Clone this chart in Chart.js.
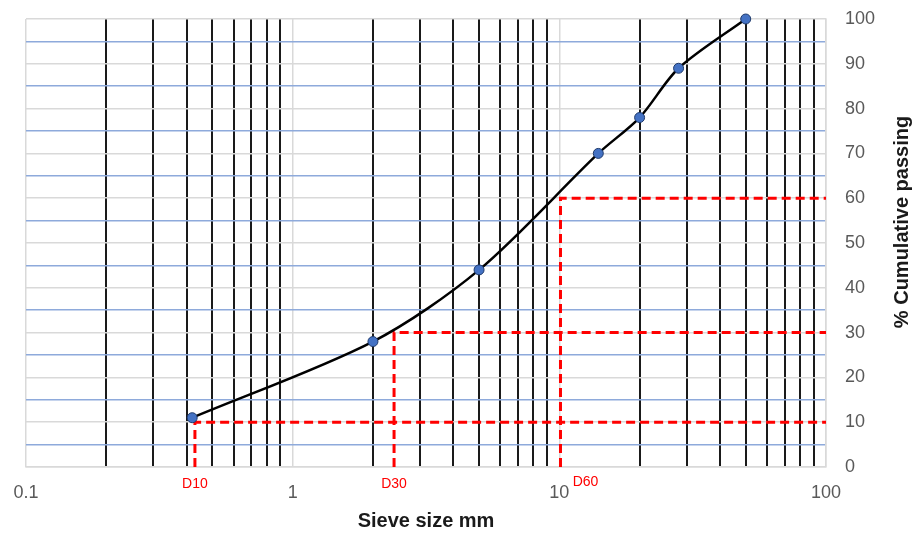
<!DOCTYPE html>
<html lang="en">
<head>
<meta charset="UTF-8">
<title>Particle size distribution</title>
<script src="https://cdn.jsdelivr.net/npm/chart.js"></script>
<style>
  html, body { margin: 0; padding: 0; background: #fff; }
  #wrap { width: 916px; height: 534px; }
</style>
</head>
<body>
<div id="wrap"><canvas id="grading"></canvas></div>
<script>
// sieve analysis data
const sieveSizes = [0.42, 2, 5, 14, 20, 28, 50];
const passing = [11, 28, 44, 70, 78, 89, 100];

// characteristic diameters
const dLabels = ['D10', 'D30', 'D60'];
const dSizes = [0.43, 2.4, 10.1];
const dPassing = [10, 30, 60];

const xTickLabels = ['0.1', '1', '10', '100'];
const yTickLabels = [0, 10, 20, 30, 40, 50, 60, 70, 80, 90, 100];

const FONT = '"Liberation Sans", Arial, sans-serif';

const isDecade = v => xTickLabels.some(l => Math.abs(+l - v) < 1e-9);

const curve = sieveSizes.map((s, i) => ({ x: s, y: passing[i] }));

const dSets = dLabels.map((lbl, i) => ({
  label: lbl,
  data: [
    { x: dSizes[i], y: 0 },
    { x: dSizes[i], y: dPassing[i] },
    { x: 100, y: dPassing[i] }
  ],
  borderColor: '#ff0000',
  borderWidth: 3,
  borderDash: [9, 5],
  pointRadius: 0,
  tension: 0,
  order: 2
}));

// red D labels plus the two axis titles
const annotate = {
  id: 'annotate',
  afterDraw(chart) {
    const { ctx, chartArea: a, scales: { x } } = chart;
    ctx.save();
    ctx.textAlign = 'center';
    ctx.textBaseline = 'middle';
    ctx.fillStyle = '#ff0000';
    ctx.font = '14px ' + FONT;
    dLabels.forEach((lbl, i) => {
      let px = x.getPixelForValue(dSizes[i]);
      let py = a.bottom + 17;
      if (i === 2) { px += 25; py -= 2; } // shifted clear of the "10" tick
      ctx.fillText(lbl, px, py);
    });

    ctx.fillStyle = '#1a1a1a';
    ctx.font = 'bold 20px ' + FONT;
    ctx.fillText('Sieve size mm', (a.left + a.right) / 2, 521);
    ctx.translate(902, 222);
    ctx.rotate(-Math.PI / 2);
    ctx.fillText('% Cumulative passing', 0, 0);
    ctx.restore();
  }
};

new Chart(document.getElementById('grading'), {
  type: 'line',
  data: {
    datasets: [{
      label: 'Passing',
      data: curve,
      borderColor: '#000000',
      borderWidth: 2.5,
      tension: 0.3,
      clip: false,
      pointRadius: 5,
      pointHoverRadius: 5,
      pointBackgroundColor: '#4472c4',
      pointBorderColor: '#1f3a6b',
      pointBorderWidth: 1,
      order: 1
    }, ...dSets]
  },
  options: {
    responsive: true,
    maintainAspectRatio: false,
    animation: false,
    layout: { padding: { left: 26, right: 0, top: 19, bottom: 0 } },
    plugins: { legend: { display: false }, tooltip: { enabled: false } },
    scales: {
      x: {
        type: 'logarithmic',
        min: 0.1,
        max: 100,
        afterBuildTicks: s => {
          const t = [];
          for (let e = -1; e < 2; e++)
            for (let m = 1; m < 10; m++) t.push({ value: m * Math.pow(10, e) });
          t.push({ value: 100 });
          s.ticks = t;
        },
        afterFit: s => {
          s.height = 67;
          s.paddingLeft = 0;
          s.paddingRight = 0;
        },
        ticks: {
          autoSkip: false,
          maxRotation: 0,
          padding: 15,
          color: '#595959',
          font: { family: FONT, size: 18 },
          callback: v => {
            const l = xTickLabels.find(l => Math.abs(+l - v) < 1e-9);
            return l === undefined ? '' : l;
          }
        },
        grid: {
          drawTicks: false,
          color: c => isDecade(c.tick.value) ? '#d9d9d9' : '#1a1a1a',
          lineWidth: c => isDecade(c.tick.value) ? 1.5 : 2
        },
        border: { color: '#d9d9d9', width: 1.5 }
      },
      y: {
        position: 'right',
        min: 0,
        max: 100,
        afterFit: s => {
          s.width = 90;
          s.paddingTop = 0;
          s.paddingBottom = 0;
        },
        ticks: {
          stepSize: 5,
          autoSkip: false,
          padding: 19,
          color: '#595959',
          font: { family: FONT, size: 18 },
          callback: v => yTickLabels.includes(v) ? v : ''
        },
        grid: {
          drawTicks: false,
          color: c => yTickLabels.includes(c.tick.value) ? '#d9d9d9' : '#8eaadb',
          lineWidth: 1.5
        },
        border: { color: '#d9d9d9', width: 1.5 }
      }
    }
  },
  plugins: [annotate]
});
</script>
</body>
</html>
